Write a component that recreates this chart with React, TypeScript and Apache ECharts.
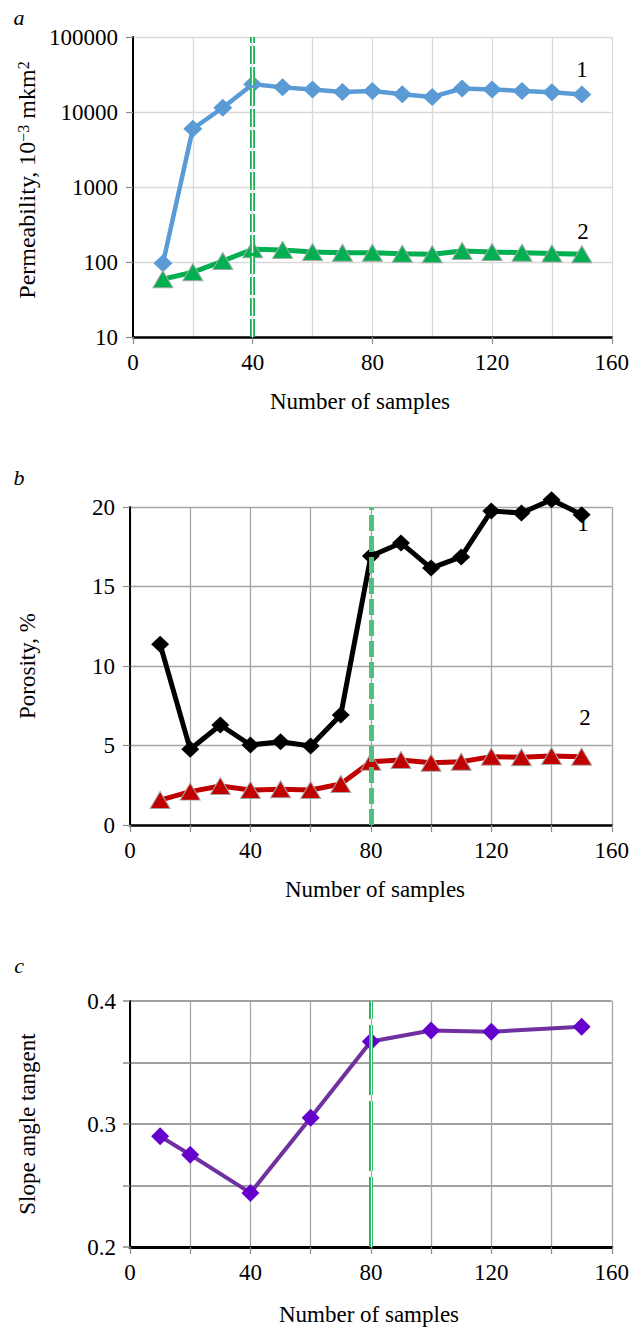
import React, { useEffect, useRef } from "react";
import * as echarts from "echarts";

// ---------- data ----------
const sampleCounts = [10, 20, 30, 40, 50, 60, 70, 80, 90, 100, 110, 120, 130, 140, 150];
const permeabilityCurve1 = [96, 5980, 11400, 23500, 21300, 20000, 18500, 19000, 17300, 15900, 20600, 20000, 19100, 18400, 17100];
const permeabilityCurve2 = [59, 73, 103, 148, 145, 136, 133, 133, 129, 127, 140, 136, 133, 130, 127];
const porosityCurve1 = [11.37, 4.76, 6.29, 5.03, 5.24, 4.97, 6.92, 16.92, 17.74, 16.16, 16.86, 19.75, 19.62, 20.46, 19.52];
const porosityCurve2 = [1.57, 2.1, 2.45, 2.2, 2.25, 2.2, 2.58, 3.98, 4.09, 3.92, 3.98, 4.3, 4.26, 4.34, 4.3];
const slopeCounts = [10, 20, 40, 60, 80, 100, 120, 150];
const slopeTangent = [0.29, 0.275, 0.244, 0.305, 0.367, 0.376, 0.375, 0.379];
const permeabilityTicks = [10, 100, 1000, 10000, 100000];
const thresholdA = 40;
const thresholdB = 80;
const thresholdC = 80;

const FONT = "'Liberation Serif', 'Times New Roman', serif";

const zip = (xs: number[], ys: number[]) => xs.map((x, i) => [x, ys[i]]);

function xAxisBase(gridIndex: number, gridColor: string, axisWidth: number) {
  return {
    gridIndex,
    type: "value",
    min: 0,
    max: 160,
    axisLine: { show: true, onZero: false, lineStyle: { color: "#000", width: axisWidth } },
    axisTick: { show: true, length: 7, lineStyle: { color: "#8c8c8c", width: 1.2 } },
    axisLabel: { fontFamily: FONT, fontSize: 23, color: "#000", margin: 14 },
    splitLine: { show: true, lineStyle: { color: gridColor, width: 1.3 } },
  };
}

function buildOption() {
  return {
    animation: false,
    grid: [
      { left: 133, top: 37, width: 485, height: 300 },
      { left: 130, top: 507, width: 485, height: 318 },
      { left: 130, top: 1001, width: 486, height: 246 },
    ],
    xAxis: [
      {
        ...xAxisBase(0, "#d9d9d9", 2.5),
        interval: 40,
        minorTick: { show: false, splitNumber: 2 },
        minorSplitLine: { show: true, lineStyle: { color: "#d9d9d9", width: 1.3 } },
      },
      {
        ...xAxisBase(1, "#a6a6a6", 2.5),
        interval: 20,
        axisLabel: {
          fontFamily: FONT, fontSize: 23, color: "#000", margin: 14,
          formatter: (v: number) => (v % 40 === 0 ? String(v) : ""),
        },
      },
      {
        ...xAxisBase(2, "#a6a6a6", 3),
        interval: 20,
        axisLabel: {
          fontFamily: FONT, fontSize: 23, color: "#000", margin: 14,
          formatter: (v: number) => (v % 40 === 0 ? String(v) : ""),
        },
      },
    ],
    yAxis: [
      {
        gridIndex: 0,
        type: "log",
        logBase: 10,
        min: permeabilityTicks[0],
        max: permeabilityTicks[permeabilityTicks.length - 1],
        axisLine: { show: true, onZero: false, lineStyle: { color: "#000", width: 2 } },
        axisTick: { show: true, length: 7, lineStyle: { color: "#8c8c8c", width: 1.2 } },
        axisLabel: { fontFamily: FONT, fontSize: 23, color: "#000", margin: 15, formatter: (v: number) => String(Math.round(v)) },
        splitLine: { show: true, lineStyle: { color: "#d9d9d9", width: 1.3 } },
      },
      {
        gridIndex: 1,
        type: "value",
        min: 0,
        max: 20,
        interval: 5,
        axisLine: { show: true, onZero: false, lineStyle: { color: "#000", width: 2 } },
        axisTick: { show: true, length: 7, lineStyle: { color: "#8c8c8c", width: 1.2 } },
        axisLabel: { fontFamily: FONT, fontSize: 23, color: "#000", margin: 15 },
        splitLine: { show: true, lineStyle: { color: "#a6a6a6", width: 1.3 } },
      },
      {
        gridIndex: 2,
        type: "value",
        min: 0.2,
        max: 0.4,
        interval: 0.05,
        axisLine: { show: true, onZero: false, lineStyle: { color: "#000", width: 2 } },
        axisTick: { show: true, length: 7, lineStyle: { color: "#8c8c8c", width: 1.5 } },
        axisLabel: {
          fontFamily: FONT, fontSize: 23, color: "#000", margin: 14,
          formatter: (v: number) => {
            const t = Math.round(v * 100);
            return t % 10 === 0 ? (t / 100).toFixed(1) : "";
          },
        },
        splitLine: { show: true, lineStyle: { color: "#a0a0a0", width: 2 } },
      },
    ],
    series: [
      // ---- panel a ----
      {
        type: "line",
        xAxisIndex: 0,
        yAxisIndex: 0,
        data: zip(sampleCounts, permeabilityCurve1),
        lineStyle: { color: "#5b9bd5", width: 4.5 },
        itemStyle: { color: "#5b9bd5" },
        symbol: "diamond",
        symbolSize: [19, 18],
        z: 3,
      },
      {
        type: "line",
        xAxisIndex: 0,
        yAxisIndex: 0,
        data: zip(sampleCounts, permeabilityCurve2),
        lineStyle: { color: "#00b050", width: 5 },
        itemStyle: { color: "#00b050", borderColor: "#a6a6a6", borderWidth: 1 },
        symbol: "triangle",
        symbolSize: [20, 17],
        z: 3,
        markLine: {
          silent: true,
          symbol: ["none", "none"],
          label: { show: false },
          lineStyle: { color: "#1fae5a", width: 5, type: [18, 3] },
          data: [{ xAxis: thresholdA }],
        },
      },
      {
        type: "line",
        xAxisIndex: 0,
        yAxisIndex: 0,
        data: [],
        z: 4,
        markLine: {
          silent: true,
          symbol: ["none", "none"],
          label: { show: false },
          lineStyle: { color: "#ffffff", width: 1.4, type: [18, 3] },
          data: [{ xAxis: thresholdA }],
        },
      },
      // ---- panel b ----
      {
        type: "line",
        xAxisIndex: 1,
        yAxisIndex: 1,
        data: zip(sampleCounts, porosityCurve1),
        lineStyle: { color: "#000", width: 5 },
        itemStyle: { color: "#000" },
        symbol: "diamond",
        symbolSize: [18, 17],
        clip: false,
        z: 3,
      },
      {
        type: "line",
        xAxisIndex: 1,
        yAxisIndex: 1,
        data: zip(sampleCounts, porosityCurve2),
        lineStyle: { color: "#c00000", width: 5 },
        itemStyle: { color: "#c00000", borderColor: "#a6a6a6", borderWidth: 1 },
        symbol: "triangle",
        symbolSize: [20, 17],
        z: 3,
        markLine: {
          silent: true,
          symbol: ["none", "none"],
          label: { show: false },
          lineStyle: { color: "#4fc07e", width: 5, type: [16, 5] },
          data: [{ xAxis: thresholdB }],
        },
      },
      // ---- panel c ----
      {
        type: "line",
        xAxisIndex: 2,
        yAxisIndex: 2,
        data: zip(slopeCounts, slopeTangent),
        lineStyle: { color: "#7030a0", width: 4 },
        itemStyle: { color: "#6600cc" },
        symbol: "diamond",
        symbolSize: [18, 18],
        z: 3,
        markLine: {
          silent: true,
          symbol: ["none", "none"],
          label: { show: false },
          lineStyle: { color: "#22b35e", width: 4, type: [70, 6] },
          data: [{ xAxis: thresholdC }],
        },
      },
      {
        type: "line",
        xAxisIndex: 2,
        yAxisIndex: 2,
        data: [],
        z: 4,
        markLine: {
          silent: true,
          symbol: ["none", "none"],
          label: { show: false },
          lineStyle: { color: "#ffffff", width: 1.2, type: [70, 6] },
          data: [{ xAxis: thresholdC }],
        },
      },
    ],
    graphic: [
      { type: "text", x: 19, y: 17, style: { text: "a", font: `italic 22px ${FONT}`, fill: "#000", textAlign: "center", textVerticalAlign: "middle" } },
      { type: "text", x: 19, y: 477, style: { text: "b", font: `italic 22px ${FONT}`, fill: "#000", textAlign: "center", textVerticalAlign: "middle" } },
      { type: "text", x: 19, y: 965, style: { text: "c", font: `italic 22px ${FONT}`, fill: "#000", textAlign: "center", textVerticalAlign: "middle" } },
      { type: "text", x: 582, y: 69, style: { text: "1", font: `23px ${FONT}`, fill: "#000", textAlign: "center", textVerticalAlign: "middle" } },
      { type: "text", x: 583, y: 231, style: { text: "2", font: `23px ${FONT}`, fill: "#000", textAlign: "center", textVerticalAlign: "middle" } },
      { type: "text", x: 583, y: 523, z: 0, style: { text: "1", font: `23px ${FONT}`, fill: "#000", textAlign: "center", textVerticalAlign: "middle" } },
      { type: "text", x: 585, y: 717, style: { text: "2", font: `23px ${FONT}`, fill: "#000", textAlign: "center", textVerticalAlign: "middle" } },
      {
        type: "text",
        x: 27,
        y: 180,
        rotation: Math.PI / 2,
        style: {
          text: "Permeability, 10{sup|−3} mkm{sup|2}",
          fontFamily: FONT,
          fontSize: 24,
          fill: "#000",
          textAlign: "center",
          textVerticalAlign: "middle",
          rich: { sup: { fontFamily: FONT, fontSize: 16, verticalAlign: "top", fill: "#000" } },
        },
      },
      { type: "text", x: 27, y: 666, rotation: Math.PI / 2, style: { text: "Porosity, %", font: `23px ${FONT}`, fill: "#000", textAlign: "center", textVerticalAlign: "middle" } },
      { type: "text", x: 27, y: 1124, rotation: Math.PI / 2, style: { text: "Slope angle tangent", font: `23px ${FONT}`, fill: "#000", textAlign: "center", textVerticalAlign: "middle" } },
      { type: "text", x: 360, y: 401, style: { text: "Number of samples", font: `23px ${FONT}`, fill: "#000", textAlign: "center", textVerticalAlign: "middle" } },
      { type: "text", x: 375, y: 889, style: { text: "Number of samples", font: `23px ${FONT}`, fill: "#000", textAlign: "center", textVerticalAlign: "middle" } },
      { type: "text", x: 369, y: 1314, style: { text: "Number of samples", font: `23px ${FONT}`, fill: "#000", textAlign: "center", textVerticalAlign: "middle" } },
    ],
  };
}

export default function App() {
  const ref = useRef<HTMLDivElement>(null);
  useEffect(() => {
    if (!ref.current) return;
    const chart = echarts.init(ref.current, null, { renderer: "svg" });
    chart.setOption(buildOption() as any);
    return () => chart.dispose();
  }, []);
  return (
    <div
      ref={ref}
      style={{ position: "absolute", left: 0, top: 0, width: 632, height: 1330, background: "#fff" }}
    />
  );
}
